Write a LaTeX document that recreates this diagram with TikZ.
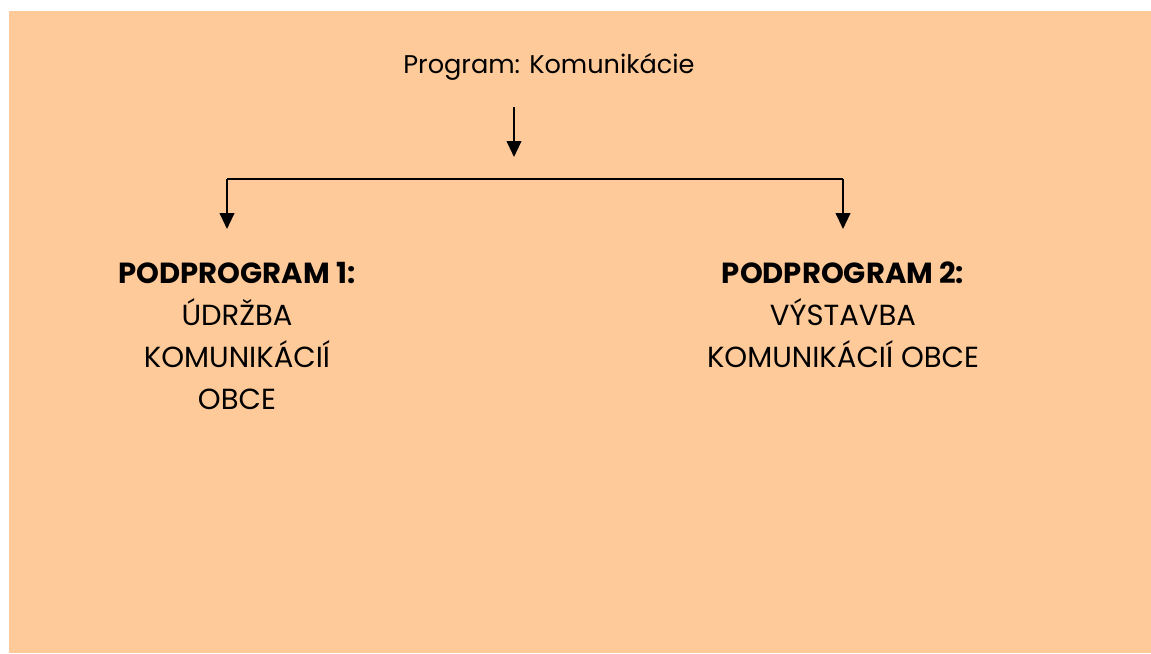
\documentclass[tikz,border=0pt]{standalone}
\usepackage{fontspec}
\setmainfont{Poppins}
\usetikzlibrary{arrows.meta}
\definecolor{peach}{HTML}{FFCA99}

\begin{document}
\begin{tikzpicture}
[%%%%%%%%%%%%%%%%%%%%%%%%%%%%%%
x=0.75pt,y=-0.75pt,
arr/.style={draw=black,line width=1.5pt,-{Triangle[length=12pt,width=11pt]}},
link/.style={draw=black,line width=1.5pt},
title/.style={font=\fontsize{19.2}{22}\selectfont,inner sep=0pt},
sub/.style={align=center,inner sep=0pt,font=\fontsize{21.8}{31.5}\selectfont},
]%%%%%%%%%%%%%%%%%%%%%%%%%%%%%%
\useasboundingbox (0,0) rectangle (1151,653);
\fill[peach] (9,11) rectangle (1151,653);

\node[title,anchor=base] (prog) at (549,73){Program: Komunikácie};

\coordinate (top) at (514,107);
\coordinate (mid) at (514,157);
\coordinate (bl) at (227,179);
\coordinate (br) at (843,179);
\coordinate (tl) at (227,229);
\coordinate (tr) at (843,229);

\draw[arr] (top) -- (mid);
\draw[link] (bl) -- (br);
\draw[arr] (bl) -- (tl);
\draw[arr] (br) -- (tr);

\node[sub,anchor=north] (sub1) at (237,262){\textbf{PODPROGRAM 1:}\\ÚDRŽBA\\KOMUNIKÁCIÍ\\OBCE};
\node[sub,anchor=north] (sub2) at (843,262){\textbf{PODPROGRAM 2:}\\VÝSTAVBA\\KOMUNIKÁCIÍ OBCE};
\end{tikzpicture}
\end{document}
